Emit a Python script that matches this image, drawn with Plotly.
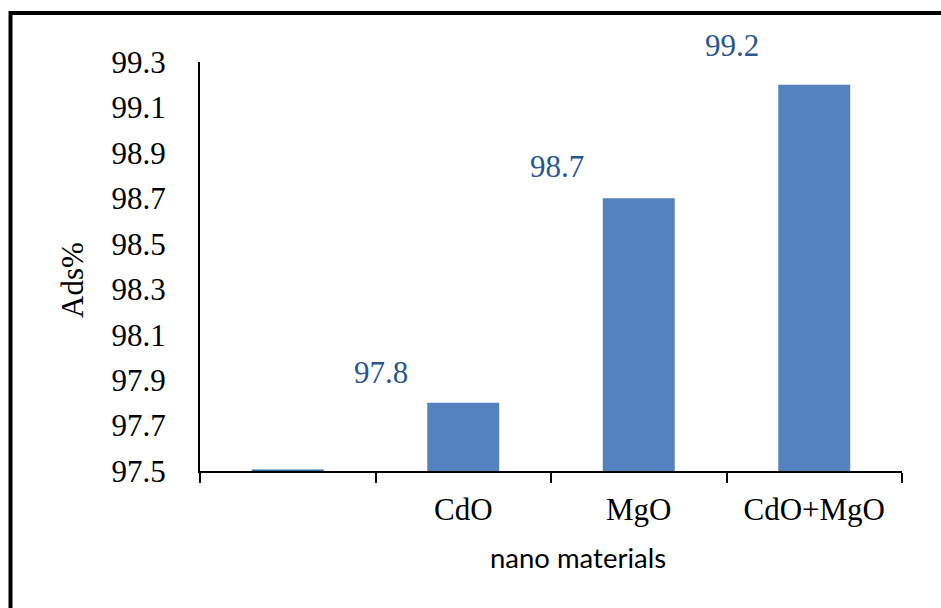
import plotly.graph_objects as go

categories = [" ", "CdO", "MgO", "CdO+MgO"]
ads_values = [97.5, 97.8, 98.7, 99.2]
label_values = ["", "97.8", "98.7", "99.2"]
y_ticks = [97.5, 97.7, 97.9, 98.1, 98.3, 98.5, 98.7, 98.9, 99.1, 99.3]

W, H = 941, 608
L, R, T, B = 200, 39, 62, 137
pw, ph = W - L - R, H - T - B

def px_x(x):
    return (x - L) / pw

def px_y(y):
    return (H - B - y) / ph

serif = "Liberation Serif, Times New Roman, serif"

fig = go.Figure()
fig.add_trace(go.Bar(
    x=categories,
    y=[v - 97.5 for v in ads_values],
    base=97.5,
    marker=dict(color="#5482C0",
                line=dict(color=["#3E6AA8", "#5482C0", "#5482C0", "#5482C0"],
                          width=[3, 0, 0, 0])),
    showlegend=False,
    hoverinfo="skip",
))

label_dy = [0, 30, 32, 39]
for i, (c, v, t) in enumerate(zip(categories, ads_values, label_values)):
    if not t:
        continue
    fig.add_annotation(x=c, y=v, text=t, showarrow=False, xshift=-82,
                       yshift=label_dy[i], yanchor="middle",
                       font=dict(family=serif, size=31, color="#2B5690"))

fig.update_layout(
    width=W, height=H,
    margin=dict(l=L, r=R, t=T, b=B),
    paper_bgcolor="white", plot_bgcolor="white",
    bargap=0.59,
    font=dict(family=serif, size=31, color="black"),
    xaxis=dict(
        type="category", tickson="boundaries", ticks="outside", ticklen=10,
        tickwidth=2, tickcolor="black", showline=True, linecolor="black",
        linewidth=2, showgrid=False, range=[-0.5, 3.5], ticklabelstandoff=10,
        tickfont=dict(family=serif, size=31, color="black"),
    ),
    yaxis=dict(
        range=[97.5, 99.3], tickvals=y_ticks,
        ticktext=[f"{v:.1f}" for v in y_ticks],
        showline=True, linecolor="black", linewidth=2, showgrid=False,
        ticks="", zeroline=False, ticklabelstandoff=26,
        tickfont=dict(family=serif, size=31, color="black"),
    ),
    shapes=[dict(type="rect", xref="paper", yref="paper",
                 x0=px_x(10.5), x1=px_x(960), y0=px_y(13), y1=px_y(640),
                 line=dict(color="black", width=4), layer="above")],
    annotations=list(fig.layout.annotations) + [
        dict(text="nano materials", xref="paper", yref="paper",
             x=px_x(578), y=px_y(557), showarrow=False,
             xanchor="center", yanchor="middle",
             font=dict(family="Lato, sans-serif", size=27.5, color="black")),
        dict(text="Ads%", xref="paper", yref="paper",
             x=px_x(72), y=px_y(280), showarrow=False, textangle=-90,
             xanchor="center", yanchor="middle",
             font=dict(family=serif, size=31, color="black")),
    ],
)

fig.write_html("out.html", config={"displayModeBar": False},
               post_script="document.body.style.margin='0';document.body.style.overflow='hidden';")
